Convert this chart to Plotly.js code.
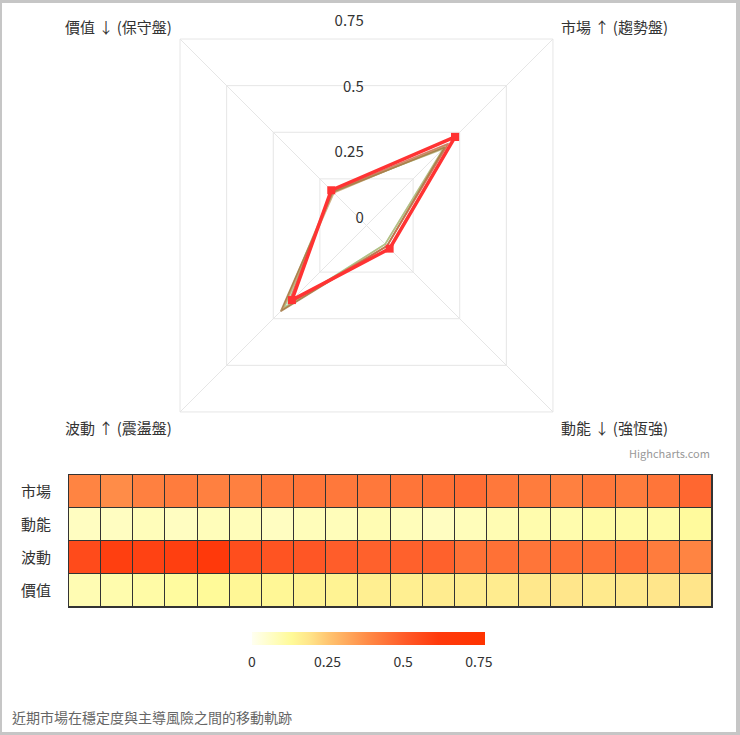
<!DOCTYPE html>
<html>
<head>
<meta charset="utf-8">
<script src="https://cdn.plot.ly/plotly-3.0.1.min.js"></script>
<style>
  html, body { margin: 0; padding: 0; background: #fff; overflow: hidden; }
  #frame {
    position: absolute; left: 0; top: 0; width: 740px; height: 735px;
    box-sizing: border-box; border-style: solid; border-color: #c6c6c6;
    border-width: 3px 4px 3px 2px; pointer-events: none; z-index: 10;
  }
  /* chart is pushed up so the polar circle (radius of the square's corners) fits */
  #chart { position: absolute; left: 0; top: -50px; width: 740px; height: 785px; }
</style>
</head>
<body>
<div id="frame"></div>
<div id="chart"></div>
<script>
"use strict";

// factors, in the order they go round the radar (clockwise from top-right)
var categories = ["市場", "動能", "波動", "價值"];
var axisLabels = ["市場 ↑ (趨勢盤)", "動能 ↓ (強恆強)", "波動 ↑ (震盪盤)", "價值 ↓ (保守盤)"];

// 20 recent periods
var periods = ["1","2","3","4","5","6","7","8","9","10","11","12","13","14","15","16","17","18","19","20"];

var marketVals     = [0.40,0.38,0.41,0.42,0.41,0.41,0.43,0.44,0.43,0.43,0.44,0.45,0.46,0.43,0.42,0.41,0.43,0.42,0.44,0.475];
var momentumVals   = [0.07,0.07,0.08,0.07,0.08,0.08,0.07,0.08,0.08,0.09,0.08,0.07,0.08,0.09,0.10,0.10,0.11,0.11,0.11,0.124];
var volatilityVals = [0.56,0.60,0.59,0.60,0.63,0.55,0.53,0.52,0.50,0.49,0.49,0.49,0.45,0.45,0.44,0.45,0.45,0.46,0.42,0.40];
var valueVals      = [0.09,0.10,0.11,0.12,0.13,0.14,0.14,0.15,0.15,0.16,0.16,0.17,0.17,0.17,0.18,0.185,0.175,0.18,0.185,0.189];

// last few periods drawn on the radar, old -> new
var radarPeriods = [14, 15, 16, 17, 18, 19];
var radarColors  = ["#98d898", "#b9b97f", "#c9a370", "#a57a45", "#c9704e", "#ff3333"];

var gridTicks = [0, 0.25, 0.5, 0.75, 1];
var radialLabels = [0, 0.25, 0.5, 0.75];
var colorTicks = [0, 0.25, 0.5, 0.75];

var FONT = '"Noto Sans CJK TC", "Noto Sans", sans-serif';

var traces = [];
radarPeriods.forEach(function (p, i) {
  var last = i === radarPeriods.length - 1;
  var r = [marketVals[p], momentumVals[p], volatilityVals[p], valueVals[p]];
  traces.push({
    type: "scatterpolar",
    r: r.concat([r[0]]),
    theta: categories.concat([categories[0]]),
    mode: last ? "lines+markers" : "lines",
    line: { color: radarColors[i], width: last ? 3.5 : 1.6 },
    marker: { symbol: "square", size: 8, color: radarColors[i] },
    opacity: last ? 1 : 0.85,
    name: periods[p],
    hoverinfo: "skip"
  });
});

// second polar, only to carry the vertical radial labels
// (a linear grid snaps its radial axis onto a corner)
traces.push({
  type: "scatterpolar",
  subplot: "polar2",
  r: [0],
  theta: [0],
  mode: "markers",
  marker: { size: 0, opacity: 0 },
  hoverinfo: "skip"
});

traces.push({
  type: "heatmap",
  x: periods,
  y: categories,
  z: [marketVals, momentumVals, volatilityVals, valueVals],
  zmin: 0,
  zmax: 0.77,
  xgap: 1,
  ygap: 1,
  colorscale: [
    [0, "#fffff0"], [0.1, "#fffdbc"], [0.17, "#fffa98"], [0.245, "#ffe58a"],
    [0.33, "#ffc470"], [0.5, "#ff8a46"], [0.66, "#ff5a28"], [0.8, "#ff3a0c"], [1, "#ff3300"]
  ],
  colorbar: {
    orientation: "h",
    x: 0.4978, xanchor: "center",
    y: 0.13159, yanchor: "top",
    len: 233, lenmode: "pixels",
    thickness: 13,
    outlinewidth: 0,
    xpad: 0, ypad: 0,
    tickvals: colorTicks,
    ticks: "outside",
    ticklen: 6,
    tickcolor: "rgba(0,0,0,0)",
    tickfont: { family: FONT, size: 14, color: "#333" }
  },
  hoverinfo: "skip"
});

var layout = {
  width: 740,
  height: 785,
  margin: { l: 0, r: 0, t: 0, b: 0 },
  paper_bgcolor: "#fff",
  plot_bgcolor: "#333",
  showlegend: false,
  font: { family: FONT, color: "#333" },
  polar: {
    domain: { x: [0.13892, 0.85162], y: [0.31312, 0.98497] },
    bgcolor: "rgba(0,0,0,0)",
    gridshape: "linear",
    radialaxis: {
      range: [0, 1],
      tickvals: gridTicks,
      showticklabels: false,
      showline: false,
      ticks: "",
      gridcolor: "#e6e6e6"
    },
    angularaxis: {
      type: "category",
      categoryarray: categories,
      rotation: 45,
      direction: "clockwise",
      showline: true,
      linecolor: "#e6e6e6",
      gridcolor: "#e6e6e6",
      ticks: "outside",
      ticklen: 8,
      tickcolor: "rgba(0,0,0,0)",
      tickmode: "array",
      tickvals: categories,
      ticktext: axisLabels,
      tickfont: { family: FONT, size: 15, color: "#333" }
    }
  },
  // same size as the radar, labels sit a little above their ring
  polar2: {
    domain: { x: [0.13892, 0.85162], y: [0.32204, 0.99389] },
    bgcolor: "rgba(0,0,0,0)",
    radialaxis: {
      range: [0, 1],
      tickvals: radialLabels,
      angle: 90,
      tickangle: 90,
      side: "counterclockwise",
      showgrid: false,
      showline: false,
      ticks: "",
      tickfont: { family: FONT, size: 15, color: "#333" }
    },
    angularaxis: { visible: false }
  },
  xaxis: {
    domain: [0.09324, 0.96216],
    showticklabels: false,
    showgrid: false,
    zeroline: false,
    showline: true,
    mirror: true,
    linecolor: "#333",
    linewidth: 1,
    ticks: ""
  },
  yaxis: {
    domain: [0.16306, 0.33121],
    autorange: "reversed",
    showgrid: false,
    zeroline: false,
    showline: true,
    mirror: true,
    linecolor: "#333",
    linewidth: 1,
    ticks: "",
    ticklabelstandoff: 14,
    tickfont: { family: FONT, size: 15, color: "#333" }
  },
  annotations: [
    {
      text: "Highcharts.com",
      xref: "paper", yref: "paper",
      x: 0.9622, y: 0.35924, xanchor: "right", yanchor: "middle",
      showarrow: false,
      font: { family: FONT, size: 11, color: "#999" }
    },
    {
      text: "近期市場在穩定度與主導風險之間的移動軌跡",
      xref: "paper", yref: "paper",
      x: 0.0135, y: 0.02293, xanchor: "left", yanchor: "middle",
      showarrow: false,
      font: { family: FONT, size: 14, color: "#666" }
    }
  ]
};

Plotly.newPlot("chart", traces, layout, { displayModeBar: false });
</script>
</body>
</html>
